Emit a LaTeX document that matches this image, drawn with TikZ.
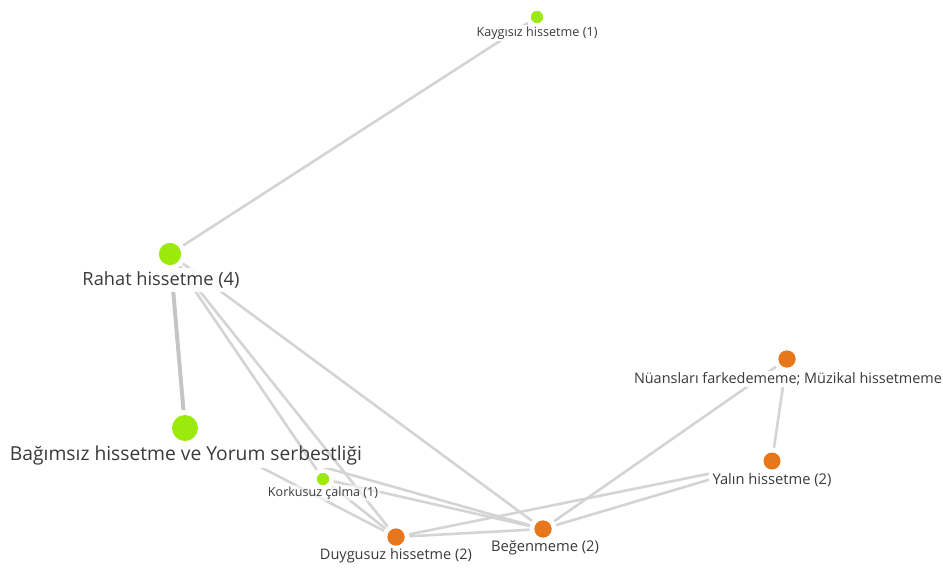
\documentclass[tikz,border=0pt]{standalone}
\usepackage{fontspec}
\setmainfont{Open Sans}
\usetikzlibrary{fit}
\definecolor{lime}{HTML}{9BEA0C}
\definecolor{orng}{HTML}{E8761A}
\definecolor{edgegray}{HTML}{D4D4D4}
\definecolor{labtext}{HTML}{3A3A3A}
\tikzset{
  edge/.style={draw=edgegray, line width=2.6pt},
  thickedge/.style={draw=edgegray!93!black, line width=4pt},
  dotbase/.style={circle, inner sep=0pt, outer sep=5pt},
  gdot/.style={dotbase, fill=lime},
  odot/.style={dotbase, fill=orng},
  lab/.style={fill=white, fill opacity=0.92, text opacity=1, text=labtext, inner sep=1.5pt},
  clearlab/.style={text=labtext, inner sep=1.5pt},
  groupbox/.style={fill=white, inner sep=0pt}
}
\begin{document}
\begin{tikzpicture}[x=1pt,y=-1pt]
\useasboundingbox (0,0) rectangle (943,570);
% dots (positions)
\node[gdot, minimum size=12pt] (kd) at (537,17) {};
\node[gdot, minimum size=22pt] (rd) at (170,254) {};
\node[gdot, minimum size=26pt] (bd) at (185,428) {};
\node[gdot, minimum size=12pt] (kod) at (323,479) {};
\node[odot, minimum size=17pt] (dd) at (396,537) {};
\node[odot, minimum size=17pt] (bgd) at (543,529) {};
\node[odot, minimum size=17pt] (nd) at (787,359) {};
\node[odot, minimum size=17pt] (yd) at (772,461) {};
% edges attached to the large node, clipped by its box
\draw[thickedge] (rd) -- (bd);
\draw[edge] (bd) -- (dd);
\draw[edge] (bd) -- (bgd);
\node[inner ysep=3pt, inner xsep=1.5pt] (bl) at (186,455) {\resizebox{352pt}{!}{\phantom{Bağımsız hissetme ve Yorum serbestliği}}};
\node[groupbox, fit=(bd)(bl)] (bgroup) {};
% edges attached to Yalın, clipped by its box
\draw[edge] (dd) -- (yd);
\draw[edge] (bgd) -- (yd);
\draw[edge] (nd) -- (yd);
\node[inner sep=3pt] (ylb) at (772,480) {\resizebox{119pt}{!}{\phantom{Yalın hissetme (2)}}};
\node[groupbox, fit=(yd)(ylb)] (ygroup) {};
% other edges
\draw[edge] (kd) -- (rd);
\draw[edge] (rd) -- (kod);
\draw[edge] (rd) -- (dd);
\draw[edge] (rd) -- (bgd);
\draw[edge] (kod) -- (dd);
\draw[edge] (kod) -- (bgd);
\draw[edge] (dd) -- (bgd);
\draw[edge] (bgd) -- (nd);
% labels
\node[lab] (kl) at (537,33) {\resizebox{121pt}{!}{Kaygısız hissetme (1)}};
\node[lab, inner ysep=4pt] (rl) at (161,280) {\resizebox{157pt}{!}{Rahat hissetme (4)}};
\node[clearlab] (blt) at (bl) {\resizebox{352pt}{!}{Bağımsız hissetme ve Yorum serbestliği}};
\node[lab, fill opacity=0.6] (kol) at (323,493) {\resizebox{110pt}{!}{Korkusuz çalma (1)}};
\node[lab] (dl) at (396,556) {\resizebox{152pt}{!}{Duygusuz hissetme (2)}};
\node[lab] (bgl) at (545,548) {\resizebox{108pt}{!}{Beğenmeme (2)}};
\node[lab] (nl) at (788,379) {\resizebox{308pt}{!}{Nüansları farkedememe; Müzikal hissetmeme}};
\node[clearlab] (yl) at (ylb) {\resizebox{119pt}{!}{Yalın hissetme (2)}};
% dots on top
\node[gdot, minimum size=12pt] at (kd) {};
\node[gdot, minimum size=22pt] at (rd) {};
\node[gdot, minimum size=26pt] at (bd) {};
\node[gdot, minimum size=12pt] at (kod) {};
\node[odot, minimum size=17pt] at (dd) {};
\node[odot, minimum size=17pt] at (bgd) {};
\node[odot, minimum size=17pt] at (nd) {};
\node[odot, minimum size=17pt] at (yd) {};
\end{tikzpicture}
\end{document}
